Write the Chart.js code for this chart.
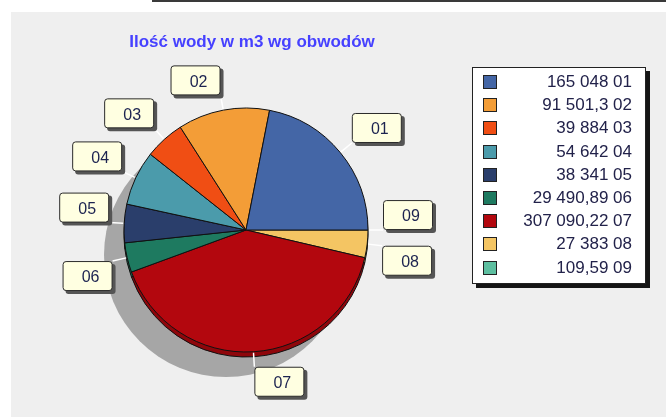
<!DOCTYPE html>
<html>
<head>
<meta charset="utf-8">
<script src="https://cdn.jsdelivr.net/npm/chart.js@4"></script>
<style>
  body { margin: 0; background: #fff; }
  #wrap { position: relative; width: 666px; height: 417px; overflow: hidden; font-family: "Liberation Sans", Arial, sans-serif; }
  #topline { position: absolute; left: 152px; top: 0; width: 514px; height: 2px; background: #3a3a3a; }
  #panel { position: absolute; left: 11px; top: 12px; right: 0; bottom: 0; background: #efefef; }
  #chart { position: absolute; left: 0; top: 0; }
  #title { position: absolute; left: 0; width: 504px; top: 32px; line-height: 20px; text-align: center;
           font-size: 17px; font-weight: bold; color: #4641ff; }
  #legend { position: absolute; left: 472px; top: 67px; width: 172px; height: 215px; background: #fff;
            border: 1.5px solid #222; box-shadow: 4px 4px 0 #151515; }
  .row { position: absolute; left: 0; right: 0; height: 20px; line-height: 20px; }
  .sw { position: absolute; left: 10px; top: 3px; width: 12px; height: 12px; border: 1px solid #222; }
  .txt { position: absolute; right: 13px; top: 0; font-size: 17px; color: #22224a; white-space: nowrap; }
</style>
</head>
<body>
<div id="wrap">
  <div id="topline"></div>
  <div id="panel"></div>
  <canvas id="chart" width="666" height="417"></canvas>
  <div id="title">Ilość wody w m3 wg obwodów</div>
  <div id="legend"></div>
</div>
<script>
// Dane: obwody i ilość wody w m3
const labels = ['01', '02', '03', '04', '05', '06', '07', '08', '09'];
const values = [165048, 91501.3, 39884, 54642, 38341, 29490.89, 307090.22, 27383, 109.59];
const colors = ['#4466a6', '#f39d37', '#f04e14', '#4b9bab', '#2a3e6b', '#1e7a60', '#b3070e', '#f4c563', '#5dbfa0'];

// formatowanie liczb po polsku: spacja tysięcy, przecinek dziesiętny
function formatNum(v) {
    const parts = String(v).split('.');
    const intPart = parts[0].replace(/\B(?=(\d{3})+(?!\d))/g, ' ');
    return parts.length > 1 ? intPart + ',' + parts[1] : intPart;
}

// Legenda w HTML
const legend = document.getElementById('legend');
labels.forEach((lab, i) => {
    const row = document.createElement('div');
    row.className = 'row';
    row.style.top = (4 + i * 23.2) + 'px';
    const sw = document.createElement('div');
    sw.className = 'sw';
    sw.style.background = colors[i];
    const txt = document.createElement('div');
    txt.className = 'txt';
    txt.textContent = formatNum(values[i]) + ' ' + lab;
    row.appendChild(sw);
    row.appendChild(txt);
    legend.appendChild(row);
});

function darken(hex, f) {
    const n = parseInt(hex.slice(1), 16);
    const r = Math.round(((n >> 16) & 255) * f);
    const g = Math.round(((n >> 8) & 255) * f);
    const b = Math.round((n & 255) * f);
    return 'rgb(' + r + ',' + g + ',' + b + ')';
}

// Cień i krawędź 3D pod wykresem, etykiety w ramkach na zewnątrz
const pieDecor = {
    id: 'pieDecor',
    beforeDatasetsDraw(chart) {
        const ctx = chart.ctx;
        const meta = chart.getDatasetMeta(0);
        const first = meta.data[0];
        const cx = first.x, cy = first.y, r = first.outerRadius;
        ctx.save();
        // cień
        ctx.fillStyle = '#a6a6a6';
        ctx.beginPath();
        ctx.arc(cx - 20, cy + 25, r, 0, Math.PI * 2);
        ctx.fill();
        // krawędź
        meta.data.forEach((arc, i) => {
            ctx.beginPath();
            ctx.moveTo(cx, cy + 5);
            ctx.arc(cx, cy + 5, r, arc.startAngle, arc.endAngle);
            ctx.closePath();
            ctx.fillStyle = darken(chart.data.datasets[0].backgroundColor[i], 0.8);
            ctx.fill();
            ctx.strokeStyle = '#111';
            ctx.lineWidth = 1;
            ctx.stroke();
        });
        ctx.restore();
    },
    afterDatasetsDraw(chart) {
        const ctx = chart.ctx;
        const meta = chart.getDatasetMeta(0);
        const names = chart.data.labels;
        const w = 50, h = 30;
        ctx.save();
        meta.data.forEach((arc, i) => {
            const mid = (arc.startAngle + arc.endAngle) / 2;
            const c = Math.cos(mid), s = Math.sin(mid);
            const ax = arc.x + c * (arc.outerRadius + 15);
            const ay = arc.y + s * (arc.outerRadius + 15);
            // linia łącząca
            ctx.strokeStyle = '#ffffff';
            ctx.lineWidth = 1.5;
            ctx.beginPath();
            ctx.moveTo(arc.x + c * (arc.outerRadius + 1), arc.y + s * (arc.outerRadius + 1));
            ctx.lineTo(ax, ay);
            ctx.stroke();
            const bx = c >= 0 ? ax : ax - w;
            const by = s > 0.01 ? ay : ay - h;
            // cień ramki
            ctx.fillStyle = '#555';
            ctx.beginPath();
            ctx.roundRect(bx + 3, by + 3, w, h, 3);
            ctx.fill();
            // ramka
            ctx.fillStyle = '#ffffe1';
            ctx.strokeStyle = '#2a2a2a';
            ctx.lineWidth = 1;
            ctx.beginPath();
            ctx.roundRect(bx + 0.5, by + 0.5, w - 1, h - 1, 3);
            ctx.fill();
            ctx.stroke();
            ctx.fillStyle = '#1c2350';
            ctx.font = '16px "Liberation Sans", Arial, sans-serif';
            ctx.textAlign = 'center';
            ctx.textBaseline = 'middle';
            ctx.fillText(names[i], bx + w / 2 + 3, by + h / 2 + 2);
        });
        ctx.restore();
    }
};

// Chart.js rysuje zgodnie z ruchem wskazówek zegara, więc odwracamy kolejność
const pieLabels = labels.slice().reverse();
const pieValues = values.slice().reverse();
const pieColors = colors.slice().reverse();

new Chart(document.getElementById('chart').getContext('2d'), {
    type: 'pie',
    data: {
        labels: pieLabels,
        datasets: [{
            data: pieValues,
            backgroundColor: pieColors,
            borderColor: '#111',
            borderWidth: 1,
            radius: 122
        }]
    },
    options: {
        responsive: false,
        animation: false,
        rotation: 90,
        layout: { padding: { left: 10, right: 184, top: 60, bottom: 17 } },
        plugins: {
            legend: { display: false },
            title: { display: false },
            tooltip: { enabled: false }
        }
    },
    plugins: [pieDecor]
});
</script>
</body>
</html>
